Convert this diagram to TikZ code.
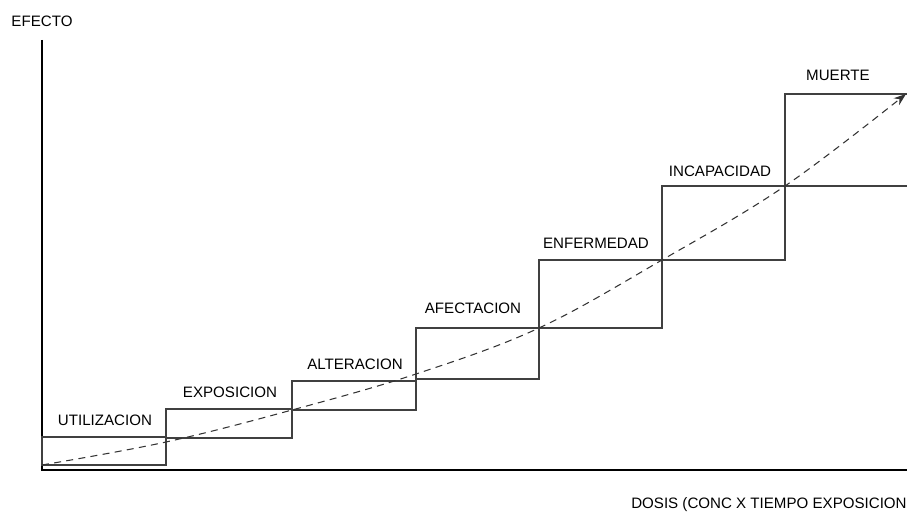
\documentclass[tikz,border=0pt]{standalone}
\usepackage{fontspec}
\setmainfont{Liberation Sans}
\usetikzlibrary{arrows.meta}

\tikzset{
  etiqueta/.style={inner sep=0pt,font=\fontsize{8.6}{10}\selectfont},
  escalon/.style={draw=black!75,line width=0.6pt},
  eje/.style={draw=black,line width=0.9pt},
  curva/.style={draw=black!80,line width=0.6pt,dash pattern=on 4pt off 3pt,-{Stealth[length=7pt,width=5pt]}}
}

\begin{document}
\begin{tikzpicture}[x=0.02cm,y=-0.02cm]

\useasboundingbox (0,0) rectangle (907,513);

\draw[eje] (42,40) -- (42,470) -- (907,470);
\node[etiqueta] (efecto) at (42,21) {EFECTO};
\node[etiqueta,anchor=east] (dosis) at (907,505) {DOSIS (CONC X TIEMPO EXPOSICION};

\draw[escalon] (42,437) rectangle (166,465);
\node[etiqueta] (utilizacion) at (105,420) {UTILIZACION};

\draw[escalon] (166,409) rectangle (292,438);
\node[etiqueta] (exposicion) at (230,392) {EXPOSICION};

\draw[escalon] (292,381) rectangle (416,410);
\node[etiqueta] (alteracion) at (355,364) {ALTERACION};

\draw[escalon] (416,328) rectangle (539,379);
\node[etiqueta] (afectacion) at (473,308) {AFECTACION};

\draw[escalon] (539,260) rectangle (662,328);
\node[etiqueta] (enfermedad) at (596,243) {ENFERMEDAD};

\draw[escalon] (662,186) rectangle (785,260);
\node[etiqueta] (incapacidad) at (720,171) {INCAPACIDAD};

\draw[escalon] (907,94) -- (785,94) -- (785,186) -- (907,186);
\node[etiqueta] (muerte) at (838,75) {MUERTE};

\coordinate (inicio) at (42,465);
\coordinate (fin) at (906,94);
\draw[curva] plot[smooth,tension=0.6] coordinates
  {(inicio) (166,442) (292,410) (416,374) (539,328) (662,260) (785,186) (fin)};

\end{tikzpicture}
\end{document}
